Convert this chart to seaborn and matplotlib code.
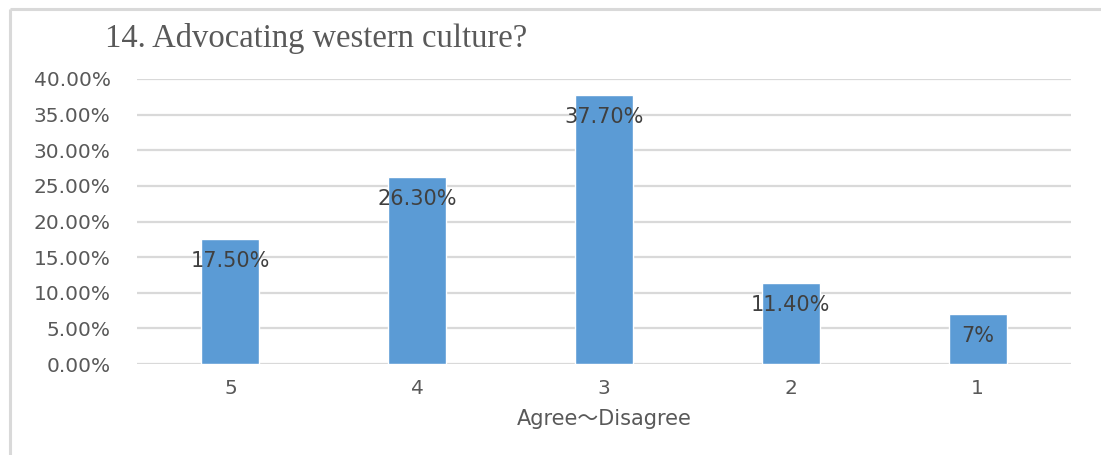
import matplotlib
matplotlib.use("Agg")
import matplotlib.pyplot as plt
from matplotlib.lines import Line2D
import seaborn as sns
import pandas as pd

# Survey responses, question 14
categories = ["5", "4", "3", "2", "1"]
shares = [17.5, 26.3, 37.7, 11.4, 7.0]
value_labels = ["17.50%", "26.30%", "37.70%", "11.40%", "7%"]
y_ticks = [0, 5, 10, 15, 20, 25, 30, 35, 40]
title_text = "14. Advocating western culture?"
x_title = "Agree\uff5eDisagree"

BAR = "#5B9BD5"
TEXT = "#595959"
GRID = "#D9D9D9"
W, H = 1101, 455

sns.set_theme(style="white")
plt.rcParams["font.family"] = ["DejaVu Sans", "Noto Sans CJK JP"]

df = pd.DataFrame({"level": categories, "share": shares})

fig = plt.figure(figsize=(W / 100, H / 100), dpi=100)
fig.patch.set_facecolor("white")

# chart frame: left and top edges
fx, fy = 9.5 / W, 1 - 9 / H
fig.add_artist(Line2D([fx, fx], [-0.05, fy], transform=fig.transFigure,
                      color=GRID, linewidth=2.2, solid_capstyle="butt"))
fig.add_artist(Line2D([fx, 1.05], [fy, fy], transform=fig.transFigure,
                      color=GRID, linewidth=2.2, solid_capstyle="butt"))

ax = fig.add_axes([137 / W, 1 - 364 / H, (1071 - 137) / W, (364 - 79) / H])
sns.barplot(data=df, x="level", y="share", order=categories, color=BAR,
            width=0.31, saturation=1, ax=ax, zorder=3)

ax.set_xlim(-0.5, len(categories) - 0.5)
ax.set_ylim(0, 40)
ax.set_yticks(y_ticks)
ax.set_yticklabels([f"{v:.2f}%" for v in y_ticks])
ax.yaxis.grid(True, color=GRID, linewidth=1.6, zorder=0)
ax.set_axisbelow(True)
for s in ax.spines.values():
    s.set_visible(False)
ax.tick_params(axis="y", length=0, pad=19, labelsize=14.5, labelcolor=TEXT)
ax.tick_params(axis="x", length=0, pad=11, labelsize=14.5, labelcolor=TEXT)
ax.set_ylabel("")
ax.set_xlabel(x_title, fontsize=15, color=TEXT, labelpad=8)

for i, (v, lab) in enumerate(zip(shares, value_labels)):
    ax.annotate(lab, xy=(i, v), xytext=(0, -22), textcoords="offset pixels",
                ha="center", va="center", fontsize=15, color="#404040", zorder=5)

fig.text(105 / W, 1 - 39 / H, title_text, family="Liberation Serif",
         fontsize=23.5, color=TEXT, ha="left", va="center")

fig.savefig("out.png", dpi=100)
